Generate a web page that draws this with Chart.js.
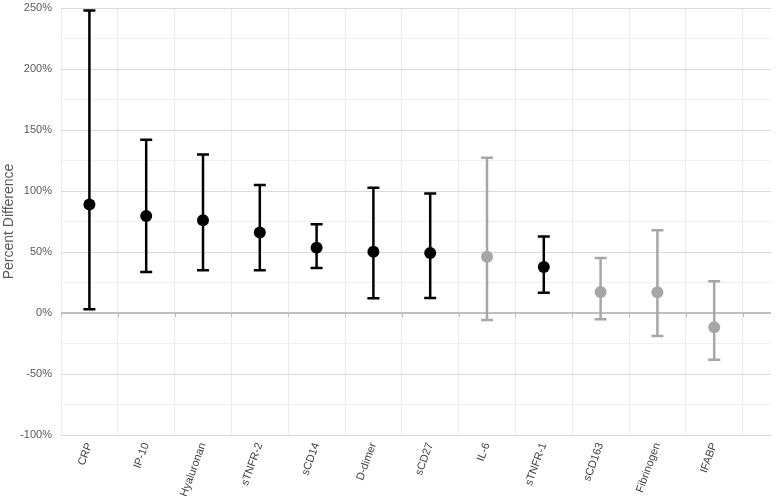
<!DOCTYPE html>
<html>
<head>
<meta charset="utf-8">
<script src="https://cdn.jsdelivr.net/npm/chart.js@4"></script>
<style>
    html, body { margin: 0; padding: 0; background: #ffffff; }
    #wrap { width: 777px; height: 496px; }
</style>
</head>
<body>
<div id="wrap"><canvas id="grafico"></canvas></div>
<script>
// dados
const categorias = ['CRP', 'IP-10', 'Hyaluronan', 'sTNFR-2', 'sCD14', 'D-dimer', 'sCD27', 'IL-6', 'sTNFR-1', 'sCD163', 'Fibrinogen', 'IFABP'];
const estimativa = [89, 79.5, 76, 66, 53.5, 50.3, 49.2, 46.2, 37.7, 17.2, 17, -11.7];
const inferior = [3, 33.6, 35, 35, 36.9, 12, 12.3, -5.7, 16.7, -5.2, -18.9, -38.3];
const superior = [248, 142, 130, 105, 72.7, 102.7, 98, 127.3, 62.8, 45, 67.8, 26];
const significativo = [true, true, true, true, true, true, true, false, true, false, false, false];
const ticksY = [-100, -50, 0, 50, 100, 150, 200, 250];

const corSig = '#000000';
const corNaoSig = '#a6a6a6';
const cores = significativo.map(s => s ? corSig : corNaoSig);

// barras de erro desenhadas antes dos pontos
const barrasErro = {
    id: 'barrasErro',
    beforeDatasetsDraw(chart) {
        const ctx = chart.ctx;
        const x = chart.scales.x;
        const y = chart.scales.y;
        ctx.save();
        // marcas pequenas no eixo do zero
        ctx.strokeStyle = '#bfbfbf';
        ctx.lineWidth = 1;
        const y0 = Math.round(y.getPixelForValue(0));
        for (let i = 0; i <= categorias.length; i++) {
            const px = Math.round(x.getPixelForValue(i - 0.5)) + 0.5;
            ctx.beginPath();
            ctx.moveTo(px, y0);
            ctx.lineTo(px, y0 + 4);
            ctx.stroke();
        }
        ctx.lineWidth = 2.5;
        categorias.forEach((c, i) => {
            const px = x.getPixelForValue(i);
            const yLo = y.getPixelForValue(inferior[i]);
            const yHi = y.getPixelForValue(superior[i]);
            ctx.strokeStyle = cores[i];
            ctx.beginPath();
            ctx.moveTo(px, yLo);
            ctx.lineTo(px, yHi);
            ctx.moveTo(px - 6, yLo);
            ctx.lineTo(px + 6, yLo);
            ctx.moveTo(px - 6, yHi);
            ctx.lineTo(px + 6, yHi);
            ctx.stroke();
        });
        ctx.restore();
    }
};

const ctxGraf = document.getElementById('grafico').getContext('2d');
new Chart(ctxGraf, {
    type: 'scatter',
    data: {
        datasets: [{
            data: estimativa.map((v, i) => ({ x: i, y: v })),
            pointBackgroundColor: cores,
            pointBorderColor: cores,
            pointRadius: 6,
            pointHoverRadius: 6,
            borderWidth: 0
        }]
    },
    options: {
        responsive: true,
        maintainAspectRatio: false,
        animation: false,
        layout: { padding: { top: 8, right: 4, left: 0, bottom: 0 } },
        plugins: {
            legend: { display: false },
            tooltip: { enabled: false }
        },
        scales: {
            x: {
                type: 'linear',
                min: -0.5,
                max: 12,
                afterBuildTicks: scale => {
                    scale.ticks = categorias.map((c, i) => ({ value: i }));
                },
                afterFit: scale => {
                    scale.height = 61;
                    scale.paddingTop = 0;
                    scale.paddingBottom = 0;
                },
                border: { display: false },
                grid: {
                    offset: true,
                    color: '#ebebeb',
                    lineWidth: 1,
                    drawTicks: false
                },
                ticks: {
                    autoSkip: false,
                    minRotation: 70,
                    maxRotation: 70,
                    padding: 6,
                    color: '#404040',
                    font: { family: 'Liberation Sans, Arial, sans-serif', size: 11 },
                    callback: (v, i) => categorias[i]
                }
            },
            y: {
                min: -100,
                max: 250,
                afterBuildTicks: scale => {
                    const t = [];
                    for (let v = -100; v <= 250; v += 25) t.push({ value: v });
                    scale.ticks = t;
                },
                afterFit: scale => {
                    scale.width = 61;
                    scale.paddingTop = 0;
                    scale.paddingBottom = 0;
                },
                border: { display: false },
                grid: {
                    drawTicks: false,
                    color: ctx => {
                        const v = ctx.tick.value;
                        if (v === 0) return '#bfbfbf';
                        return ticksY.includes(v) ? '#d9d9d9' : '#f0f0f0';
                    },
                    lineWidth: ctx => ctx.tick.value === 0 ? 2 : 1
                },
                ticks: {
                    padding: 9,
                    color: '#595959',
                    font: { family: 'Liberation Sans, Arial, sans-serif', size: 11 },
                    callback: v => ticksY.includes(v) ? v + '%' : ''
                },
                title: {
                    display: true,
                    text: 'Percent Difference',
                    color: '#595959',
                    padding: { top: 1, bottom: 0 },
                    font: { family: 'Liberation Sans, Arial, sans-serif', size: 14 }
                }
            }
        }
    },
    plugins: [barrasErro]
});
</script>
</body>
</html>
